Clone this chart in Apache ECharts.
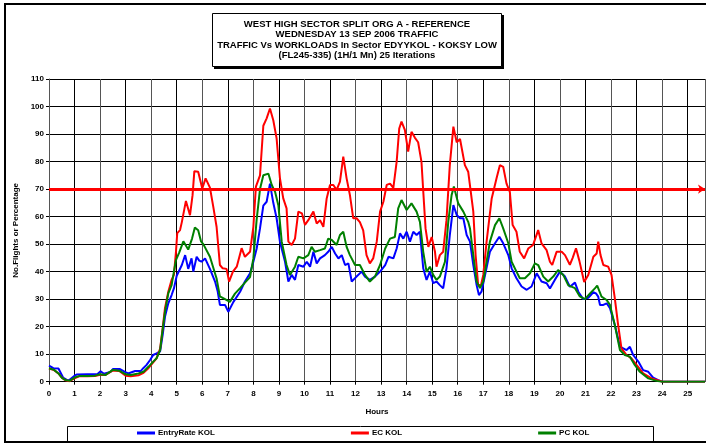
<!DOCTYPE html>
<html><head><meta charset="utf-8">
<script src="https://cdn.jsdelivr.net/npm/echarts@6/dist/echarts.min.js"></script>
<style>html,body{margin:0;padding:0;background:#fff}#c{width:706px;height:444px}</style>
</head><body><div id="c"></div>
<script>
const titleLines = [
  'WEST HIGH SECTOR SPLIT ORG A - REFERENCE',
  'WEDNESDAY 13 SEP 2006 TRAFFIC',
  'TRAFFIC Vs WORKLOADS In Sector EDYYKOL - KOKSY LOW',
  '(FL245-335) (1H/1 Mn) 25 Iterations'
];
const seriesNames = ['EntryRate KOL', 'EC KOL', 'PC KOL'];
const thresholdValue = 70;
const xMax = 25.68;

const entryRate = [[0,5.8],[0.17,4.9],[0.37,4.8],[0.55,1.5],[0.76,0.3],[1.0,2.2],[1.08,2.6],[1.5,2.7],[1.9,2.8],[2.02,3.8],[2.15,2.9],[2.4,3.5],[2.5,4.6],[2.78,4.6],[2.97,3.6],[3.1,3.0],[3.37,3.9],[3.6,3.9],[3.69,4.9],[3.82,6.1],[3.95,7.8],[4.08,9.7],[4.21,10.3],[4.35,11],[4.45,17],[4.54,23.6],[4.67,28.5],[4.8,31.5],[4.89,33.9],[5.0,38.5],[5.2,42.4],[5.33,46],[5.45,41],[5.58,44.8],[5.65,40],[5.78,45.4],[5.88,44],[5.97,43.6],[6.11,44.8],[6.3,41],[6.5,36.4],[6.6,33],[6.69,27.9],[6.89,27.9],[7.02,25.4],[7.22,29],[7.48,32.7],[7.67,36.4],[7.87,39.4],[8.0,43.6],[8.13,48.4],[8.26,55.7],[8.39,64],[8.52,65.4],[8.65,72],[8.78,65],[8.91,59.4],[9.04,50.9],[9.24,43.6],[9.37,36.4],[9.5,38.8],[9.63,37],[9.76,42.4],[9.96,41.8],[10.09,43.6],[10.22,41.8],[10.35,47.2],[10.48,43],[10.61,44.8],[10.8,46],[10.93,47.2],[11.07,49],[11.2,46.6],[11.33,44.8],[11.46,46],[11.59,42.4],[11.72,43],[11.85,36.4],[12.04,38.2],[12.24,40],[12.37,38.2],[12.56,37],[12.76,38.2],[12.96,40],[13.16,42.4],[13.29,45.4],[13.48,44.8],[13.61,48.4],[13.74,53.9],[13.87,52],[14.0,54.5],[14.13,50.9],[14.26,54.5],[14.39,53.3],[14.52,54.5],[14.65,41.2],[14.78,37],[14.91,40],[15.04,35.8],[15.17,36.4],[15.3,35.1],[15.43,33.9],[15.56,41.2],[15.69,53.3],[15.83,64.2],[15.96,60.6],[16.09,59.4],[16.22,59.4],[16.35,53.3],[16.48,50.9],[16.61,42.4],[16.74,35.1],[16.83,31.5],[16.93,32.7],[17.07,38.8],[17.26,47.2],[17.46,50.3],[17.63,52.7],[17.78,50.3],[17.98,46],[18.11,41.2],[18.3,37.6],[18.5,34.6],[18.7,33.4],[18.89,34.6],[19.09,39.4],[19.28,36.4],[19.48,35.8],[19.61,33.9],[19.8,37],[20.0,40],[20.2,38.2],[20.39,34.5],[20.59,36],[20.72,32.7],[20.91,30],[21.11,30.5],[21.31,32.5],[21.41,32.1],[21.5,30.9],[21.57,27.9],[21.7,27.9],[21.83,28.5],[21.96,26.7],[22.15,20.6],[22.35,12.7],[22.48,12.1],[22.61,11.5],[22.74,12.7],[22.87,9.7],[23.07,7.3],[23.26,4.2],[23.46,3.6],[23.65,1.5],[23.85,0.6],[24.0,0],[25.68,0]];

const ecKol = [[0,4.8],[0.2,4.2],[0.37,3],[0.5,1.5],[0.65,0.5],[0.8,0.2],[1.0,1.2],[1.2,2],[1.5,2],[1.8,2.1],[2.0,2.5],[2.2,2.4],[2.5,4.1],[2.75,3.9],[3.0,2.2],[3.2,2],[3.5,2.3],[3.7,3.2],[3.9,5],[4.08,7],[4.21,8.5],[4.35,12],[4.45,19.5],[4.54,26.7],[4.67,32.7],[4.8,37],[4.89,38.8],[4.97,47.2],[5.02,54],[5.13,55.1],[5.2,58],[5.36,65.7],[5.52,60.5],[5.62,67.8],[5.69,76.5],[5.84,76.3],[6.0,70.2],[6.13,73.9],[6.3,70.5],[6.43,63.6],[6.56,56.3],[6.69,42.4],[6.8,41.2],[6.95,41],[7.05,36.4],[7.2,40],[7.35,41.8],[7.54,48.5],[7.67,45.4],[7.87,47.2],[8.0,56.3],[8.1,70.9],[8.26,75],[8.39,93],[8.52,95.7],[8.65,99.3],[8.78,95],[8.91,88.4],[9.04,74],[9.17,66.6],[9.3,63],[9.37,50.9],[9.5,49.7],[9.63,52],[9.76,61.8],[9.9,61.2],[10.02,57],[10.15,58.7],[10.35,61.8],[10.48,57.5],[10.61,58.7],[10.74,56.3],[10.87,66.6],[11.0,71.5],[11.13,71.5],[11.26,69.7],[11.39,72.7],[11.52,81.8],[11.65,73.9],[11.78,67.8],[11.91,59.4],[12.04,59.4],[12.17,58],[12.3,55],[12.43,46],[12.56,43],[12.69,44.8],[12.83,50.9],[12.96,61.8],[13.09,65.4],[13.22,71.5],[13.35,72],[13.48,70.4],[13.61,80],[13.71,92],[13.8,94.5],[13.93,91.5],[14.06,83.6],[14.19,90.8],[14.32,88.7],[14.45,87],[14.58,80],[14.65,69.3],[14.74,55.7],[14.85,49],[14.98,52.6],[15.11,47.2],[15.17,41.8],[15.3,46],[15.43,47.2],[15.56,58.7],[15.69,78.7],[15.83,92.7],[15.96,87],[16.09,88.2],[16.28,78.7],[16.41,76.3],[16.48,75.7],[16.61,61.8],[16.7,46],[16.8,35.1],[16.91,35.1],[17.0,38.8],[17.13,50.9],[17.33,66.6],[17.52,73.9],[17.65,78.7],[17.78,78.1],[17.91,72],[18.04,69],[18.15,56.9],[18.3,54.5],[18.43,47.2],[18.6,44.8],[18.76,48.4],[18.95,49.7],[19.15,55.1],[19.28,50.3],[19.48,47.8],[19.61,43.6],[19.7,42.4],[19.87,47.2],[20.07,47.2],[20.2,46],[20.39,42.5],[20.5,45],[20.63,48.5],[20.76,44],[20.95,36.2],[21.11,38.8],[21.31,45.4],[21.44,46.6],[21.5,50.9],[21.59,46],[21.7,42.4],[21.89,41.8],[22.02,38.8],[22.15,30.3],[22.28,20.6],[22.41,12.1],[22.61,9.7],[22.8,8.5],[23.0,6.1],[23.26,3],[23.59,1.2],[23.92,0.3],[24.0,0],[25.68,0]];

const pcKol = [[0,4.9],[0.2,4.3],[0.37,3],[0.5,1.5],[0.65,0.6],[0.8,0.3],[1.0,1.5],[1.2,2.1],[1.5,2.1],[1.8,2.2],[2.0,2.7],[2.2,2.4],[2.5,4.3],[2.75,4],[3.0,2.7],[3.2,2.4],[3.5,3],[3.7,3.6],[3.9,5.5],[4.08,7.3],[4.21,8.5],[4.35,11.5],[4.45,19],[4.54,25.4],[4.67,32.1],[4.8,35.1],[4.89,40],[4.97,44.2],[5.1,47],[5.26,51],[5.45,48],[5.6,52],[5.71,56],[5.84,55],[5.95,51],[6.04,50],[6.3,45.4],[6.56,37.5],[6.69,31],[6.89,30],[7.08,29],[7.28,32],[7.48,34],[7.67,36],[7.87,38],[8.0,44.8],[8.13,59],[8.26,70],[8.39,75],[8.59,75.6],[8.72,71.5],[8.85,69],[8.98,64],[9.11,50.9],[9.3,42.4],[9.43,38.8],[9.63,41.8],[9.76,45.4],[9.96,44.8],[10.15,46],[10.28,49],[10.41,47.2],[10.61,47.8],[10.8,48.4],[10.93,52],[11.07,51.5],[11.26,49.7],[11.39,53.3],[11.52,54.5],[11.65,49],[11.78,46],[11.98,42.4],[12.17,42.4],[12.37,38.8],[12.56,36.4],[12.76,38.2],[12.96,42.4],[13.16,48.4],[13.35,52],[13.54,52.6],[13.67,63],[13.8,66],[14.0,62.4],[14.19,64.8],[14.39,61.8],[14.52,58.1],[14.65,47.2],[14.78,39.9],[14.91,41.8],[15.04,38.8],[15.17,37],[15.3,38.2],[15.5,43.6],[15.63,58.1],[15.76,67.8],[15.85,70.9],[16.02,64.8],[16.22,61.8],[16.41,58.1],[16.48,55.7],[16.61,46],[16.74,36.4],[16.87,34],[17.0,36.4],[17.13,43.6],[17.26,50.9],[17.46,56.9],[17.63,59.4],[17.78,55.7],[17.98,50.3],[18.11,43.6],[18.3,40],[18.43,37.6],[18.63,37.6],[18.83,39.4],[19.02,43],[19.15,42.4],[19.35,38.2],[19.54,36.4],[19.74,38.2],[19.93,40.6],[20.13,38.8],[20.33,35],[20.59,34],[20.78,31],[20.98,30],[21.18,32.1],[21.37,33.9],[21.46,34.9],[21.63,30.9],[21.83,29.7],[21.96,27.9],[22.15,20.6],[22.35,11.5],[22.54,9.7],[22.74,9.1],[22.93,6.1],[23.13,3.6],[23.46,1.2],[23.78,0.3],[24.0,0],[25.68,0]];

const FONT = 'Liberation Sans';
const chart = echarts.init(document.getElementById('c'), null, {renderer: 'canvas'});
const lineSeries = (name, data, color, extra) => Object.assign({
  name, type: 'line', data, showSymbol: false, symbol: 'none',
  lineStyle: {color, width: 2}, itemStyle: {color}, animation: false, z: 3
}, extra || {});

const titleGraphics = titleLines.map((t, i) => ({
  type: 'text', x: 357, y: 24 + i * 10.6, z: 20,
  style: {text: t, fill: '#000', font: 'bold 9.5px "' + FONT + '"', textAlign: 'center', textVerticalAlign: 'middle'}
}));

chart.setOption({
  animation: false,
  grid: {left: 49, right: 1, top: 79, bottom: 62.3, containLabel: false},
  legend: {
    data: seriesNames, left: 137, top: 429, padding: 0, itemGap: 136,
    itemWidth: 18, itemHeight: 3, icon: 'rect',
    textStyle: {fontFamily: FONT, fontWeight: 'bold', fontSize: 8, color: '#000', padding: [0, 0, 0, -2]}
  },
  xAxis: {
    type: 'value', min: 0, max: xMax, interval: 1,
    name: 'Hours', nameLocation: 'middle', nameGap: 26,
    nameTextStyle: {fontFamily: FONT, fontWeight: 'bold', fontSize: 8, color: '#000'},
    axisLine: {lineStyle: {color: '#000', width: 1}},
    axisTick: {show: true, length: 3, lineStyle: {color: '#000'}},
    axisLabel: {fontFamily: FONT, fontWeight: 'bold', fontSize: 8, color: '#000', margin: 8, showMaxLabel: false},
    splitLine: {show: true, lineStyle: {color: ['#555', '#000'], width: 1}}
  },
  yAxis: {
    type: 'value', min: 0, max: 110, interval: 10,
    name: 'No.Flights or Percentage', nameLocation: 'middle', nameGap: 27, nameRotate: 90,
    nameTextStyle: {fontFamily: FONT, fontWeight: 'bold', fontSize: 8, color: '#000'},
    axisLine: {show: true, lineStyle: {color: '#555', width: 1}},
    axisTick: {show: true, length: 3, lineStyle: {color: '#000'}},
    axisLabel: {fontFamily: FONT, fontWeight: 'bold', fontSize: 8, color: '#000', margin: 5},
    splitLine: {show: true, lineStyle: {color: '#000', width: 1}}
  },
  series: [
    lineSeries(seriesNames[0], entryRate, '#0000FF'),
    lineSeries(seriesNames[1], ecKol, '#FF0000', {
      markLine: {
        silent: true, symbol: ['none', 'arrow'], symbolSize: [7, 7], animation: false,
        label: {show: false},
        lineStyle: {color: '#FF0000', width: 3, type: 'solid'},
        data: [{yAxis: thresholdValue}]
      }
    }),
    lineSeries(seriesNames[2], pcKol, '#008000')
  ],
  graphic: [
    {type: 'rect', shape: {x: 5, y: 4, width: 710, height: 438}, style: {fill: null, stroke: '#000', lineWidth: 2}, z: 1, silent: true},
    {type: 'rect', shape: {x: 214, y: 15, width: 290, height: 54}, style: {fill: '#000'}, z: 18, silent: true},
    {type: 'rect', shape: {x: 212.5, y: 13.5, width: 289, height: 53}, style: {fill: '#fff', stroke: '#000', lineWidth: 1}, z: 19, silent: true},
    {type: 'rect', shape: {x: 67.5, y: 426.5, width: 586, height: 15}, style: {fill: null, stroke: '#000', lineWidth: 1}, z: 19, silent: true}
  ].concat(titleGraphics)
});
</script>
</body></html>
